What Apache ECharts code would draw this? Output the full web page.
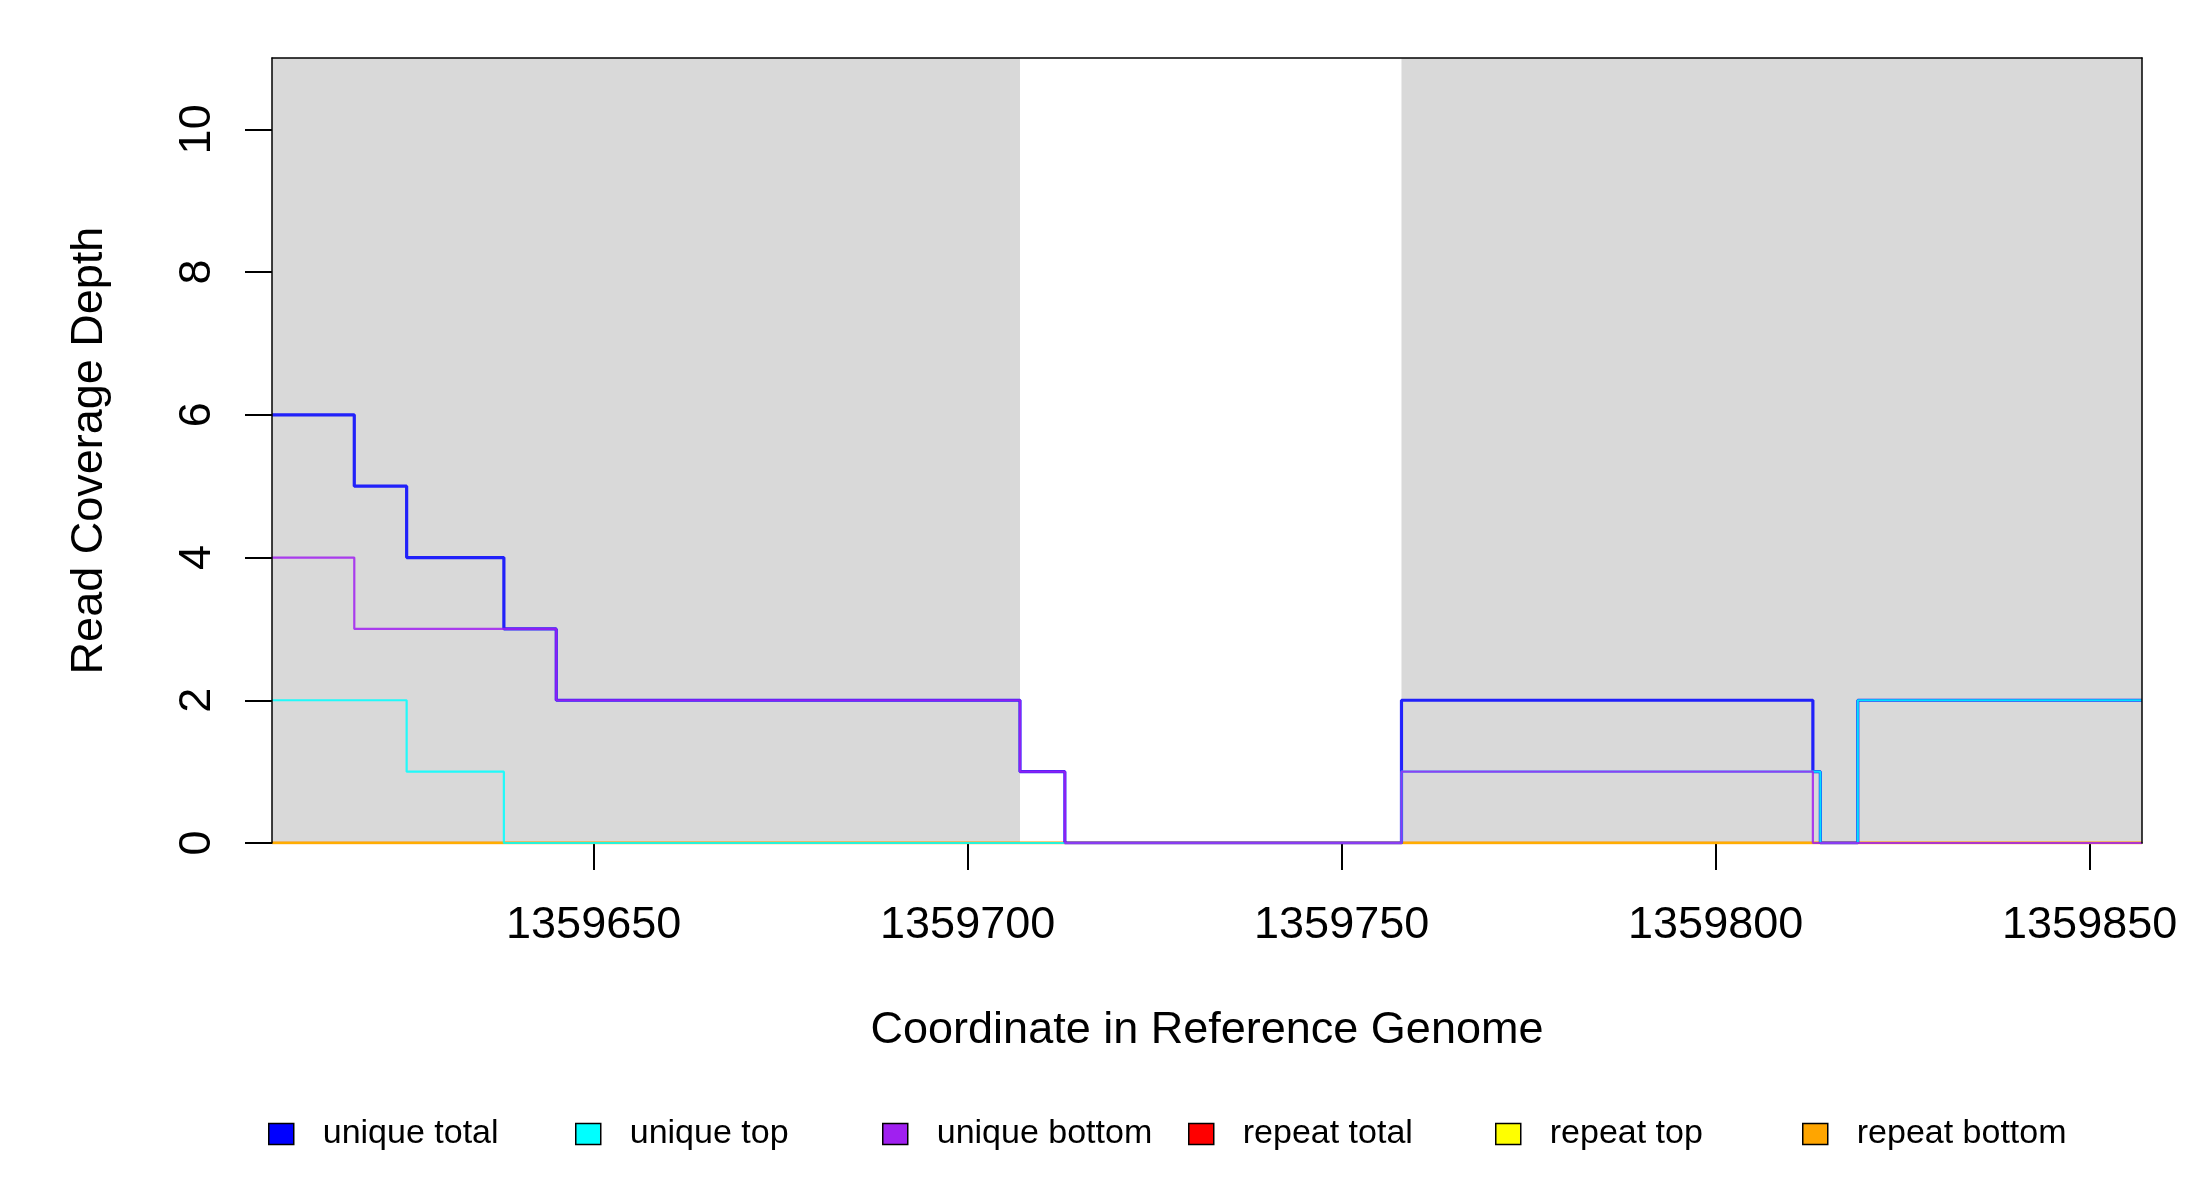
<!DOCTYPE html>
<html>
<head>
<meta charset="utf-8">
<title>Read Coverage Depth</title>
<script src="https://cdn.jsdelivr.net/npm/echarts@6/dist/echarts.min.js"></script>
<style>
  html, body { margin: 0; padding: 0; background: #fff; }
  #chart { width: 2200px; height: 1200px; }
</style>
</head>
<body>
<div id="chart"></div>
<script>
// breakpoints of the step lines (value holds until the next coordinate)
var coordTotal  = [1359607, 1359618, 1359625, 1359638, 1359645, 1359707, 1359713, 1359758, 1359813, 1359814, 1359819, 1359857];
var depthTotal  = [6, 5, 4, 3, 2, 1, 0, 2, 1, 0, 2, 2];

var coordTop    = [1359607, 1359625, 1359638, 1359758, 1359814, 1359819, 1359857];
var depthTop    = [2, 1, 0, 1, 0, 2, 2];

var coordBottom = [1359607, 1359618, 1359645, 1359707, 1359713, 1359758, 1359813, 1359857];
var depthBottom = [4, 3, 2, 1, 0, 1, 0, 0];

var coordRepeat  = [1359607, 1359857];
var repeatTotal  = [0, 0];
var repeatTop    = [0, 0];
var repeatBottom = [0, 0];

// shaded (grey) regions
var shadeStart = [1359607, 1359758];
var shadeEnd   = [1359707, 1359857];

var xTicks = [1359650, 1359700, 1359750, 1359800, 1359850];
var yTicks = [0, 2, 4, 6, 8, 10];

var seriesNames = ['unique total', 'unique top', 'unique bottom', 'repeat total', 'repeat top', 'repeat bottom'];

function pairs(xs, ys) {
    var out = [];
    for (var i = 0; i < xs.length; i++) {
        out.push([xs[i], ys[i]]);
    }
    return out;
}

var shadeAreas = [];
for (var i = 0; i < shadeStart.length; i++) {
    shadeAreas.push([{ coord: [shadeStart[i], 0] }, { coord: [shadeEnd[i], 11] }]);
}

var font = 'Liberation Sans, Arial, sans-serif';

function stepSeries(name, data, color, width, extra) {
    var s = {
        name: name,
        type: 'line',
        step: 'end',
        data: data,
        symbol: 'none',
        showSymbol: false,
        silent: true,
        color: color,
        itemStyle: { color: color, opacity: 1 },
        lineStyle: { color: color, width: width, opacity: 0.85 },
        emphasis: { disabled: true }
    };
    if (extra) {
        for (var k in extra) s[k] = extra[k];
    }
    return s;
}

var myChart = echarts.init(document.getElementById('chart'));

var legendLeft = [268, 575, 882, 1188, 1495, 1802];
var legends = [];
for (var j = 0; j < seriesNames.length; j++) {
    legends.push({
        data: [seriesNames[j]],
        left: legendLeft[j],
        top: 1117,
        padding: 0,
        icon: 'rect',
        itemWidth: 25,
        itemHeight: 21,
        selectedMode: false,
        itemStyle: { borderColor: '#000', borderWidth: 1.5 },
        textStyle: { fontFamily: font, fontSize: 34, color: '#000', padding: [0, 0, 0, 24] }
    });
}

var option = {
    animation: false,
    backgroundColor: '#fff',
    legend: legends,
    grid: { left: 272, right: 58, top: 58, bottom: 357, containLabel: false },
    xAxis: [{
        type: 'value',
        min: 1359607,
        max: 1359857,
        name: 'Coordinate in Reference Genome',
        nameLocation: 'middle',
        nameGap: 165,
        nameTextStyle: { fontFamily: font, fontSize: 45, color: '#000' },
        splitLine: { show: false },
        axisLine: { show: true, onZero: false, lineStyle: { color: '#000', width: 1.5 } },
        axisTick: { show: true, length: 27, lineStyle: { color: '#000', width: 2 }, customValues: xTicks },
        axisLabel: {
            fontFamily: font, fontSize: 45, color: '#000', margin: 60, customValues: xTicks,
            formatter: function (v) { return String(v); }
        }
    }, {
        type: 'value',
        position: 'top',
        min: 1359607,
        max: 1359857,
        z: 10,
        splitLine: { show: false },
        axisLine: { show: true, onZero: false, lineStyle: { color: '#000', width: 1.5 } },
        axisTick: { show: false },
        axisLabel: { show: false }
    }],
    yAxis: [{
        type: 'value',
        min: 0,
        max: 11,
        z: 10,
        name: 'Read Coverage Depth',
        nameLocation: 'middle',
        nameGap: 160,
        nameTextStyle: { fontFamily: font, fontSize: 45, color: '#000' },
        splitLine: { show: false },
        axisLine: { show: true, onZero: false, lineStyle: { color: '#000', width: 1.5 } },
        axisTick: { show: true, length: 27, lineStyle: { color: '#000', width: 2 }, customValues: yTicks },
        axisLabel: { fontFamily: font, fontSize: 45, color: '#000', rotate: 90, margin: 52, customValues: yTicks }
    }, {
        type: 'value',
        position: 'right',
        min: 0,
        max: 11,
        z: 10,
        splitLine: { show: false },
        axisLine: { show: true, onZero: false, lineStyle: { color: '#000', width: 1.5 } },
        axisTick: { show: false },
        axisLabel: { show: false }
    }],
    series: [
        stepSeries('repeat total', pairs(coordRepeat, repeatTotal), '#FF0000', 2.4, {
            markArea: {
                silent: true,
                itemStyle: { color: '#D9D9D9' },
                data: shadeAreas
            }
        }),
        stepSeries('repeat top', pairs(coordRepeat, repeatTop), '#FFFF00', 2.4),
        stepSeries('repeat bottom', pairs(coordRepeat, repeatBottom), '#FFA500', 2.4),
        stepSeries('unique total', pairs(coordTotal, depthTotal), '#0000FF', 3.2),
        stepSeries('unique top', pairs(coordTop, depthTop), '#00FFFF', 2.2),
        stepSeries('unique bottom', pairs(coordBottom, depthBottom), '#A020F0', 2.2)
    ]
};

myChart.setOption(option);
</script>
</body>
</html>
